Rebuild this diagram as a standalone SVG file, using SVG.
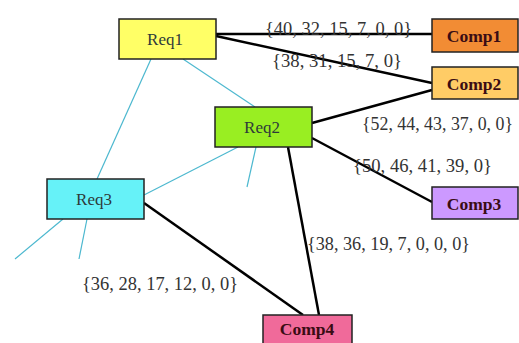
<svg xmlns="http://www.w3.org/2000/svg" width="519" height="343" viewBox="0 0 519 343">
<style>
.box{stroke:#222;stroke-width:1.5}
.req{font-family:"Liberation Serif","Times New Roman",serif;font-size:17px;fill:#2e3a3a;text-anchor:middle}
.comp{font-family:"Liberation Serif","Times New Roman",serif;font-size:17.5px;font-weight:bold;fill:#3a0c14;text-anchor:middle}
.lbl{font-family:"Liberation Serif","Times New Roman",serif;font-size:18px;fill:#333}
.thick{stroke:#000;stroke-width:2.5;fill:none}
.thin{stroke:#4cb8cf;stroke-width:1.2;fill:none}
</style>
<rect width="519" height="343" fill="#fff"/>
<g id="connectors">
<line class="thin" x1="151" y1="59" x2="97" y2="179"/>
<line class="thin" x1="183" y1="59" x2="255" y2="107"/>
<line class="thin" x1="238" y1="147" x2="144" y2="195"/>
<line class="thin" x1="256" y1="147" x2="247" y2="187"/>
<line class="thin" x1="63" y1="219" x2="15" y2="259"/>
<line class="thin" x1="87" y1="219" x2="79" y2="259"/>
<line class="thick" x1="216" y1="34" x2="432" y2="34"/>
<line class="thick" x1="216" y1="36" x2="432" y2="83"/>
<line class="thick" x1="312" y1="123" x2="432" y2="90"/>
<line class="thick" x1="312" y1="138" x2="432" y2="202"/>
<line class="thick" x1="288" y1="147" x2="319" y2="315"/>
<line class="thick" x1="144" y1="203" x2="303" y2="315"/>
</g>
<g id="labels">
<text class="lbl" x="265" y="35" textLength="147" lengthAdjust="spacingAndGlyphs">{40, 32, 15, 7, 0, 0}</text>
<text class="lbl" x="272" y="67" textLength="130" lengthAdjust="spacingAndGlyphs">{38, 31, 15, 7, 0}</text>
<text class="lbl" x="362" y="130" textLength="151" lengthAdjust="spacingAndGlyphs">{52, 44, 43, 37, 0, 0}</text>
<text class="lbl" x="353" y="172" textLength="139" lengthAdjust="spacingAndGlyphs">{50, 46, 41, 39, 0}</text>
<text class="lbl" x="307" y="250" textLength="163" lengthAdjust="spacingAndGlyphs">{38, 36, 19, 7, 0, 0, 0}</text>
<text class="lbl" x="82" y="290" textLength="156" lengthAdjust="spacingAndGlyphs">{36, 28, 17, 12, 0, 0}</text>
</g>
<g id="Req1"><rect class="box" x="119" y="19" width="97" height="40" fill="#ffff66"/><text class="req" x="165" y="45">Req1</text></g>
<g id="Req2"><rect class="box" x="215" y="107" width="97" height="40" fill="#99ee22"/><text class="req" x="262" y="133">Req2</text></g>
<g id="Req3"><rect class="box" x="47" y="179" width="97" height="40" fill="#66f2f8"/><text class="req" x="94" y="205">Req3</text></g>
<g id="Comp1"><rect class="box" x="432" y="19" width="86" height="33" fill="#f28c34"/><text class="comp" x="474" y="42">Comp1</text></g>
<g id="Comp2"><rect class="box" x="432" y="67" width="86" height="32" fill="#ffcc66"/><text class="comp" x="474" y="90">Comp2</text></g>
<g id="Comp3"><rect class="box" x="432" y="187" width="86" height="32" fill="#cc99ff"/><text class="comp" x="474" y="210">Comp3</text></g>
<g id="Comp4"><rect class="box" x="263" y="315" width="89" height="32" fill="#f06a9a"/><text class="comp" x="307" y="335">Comp4</text></g>
</svg>
